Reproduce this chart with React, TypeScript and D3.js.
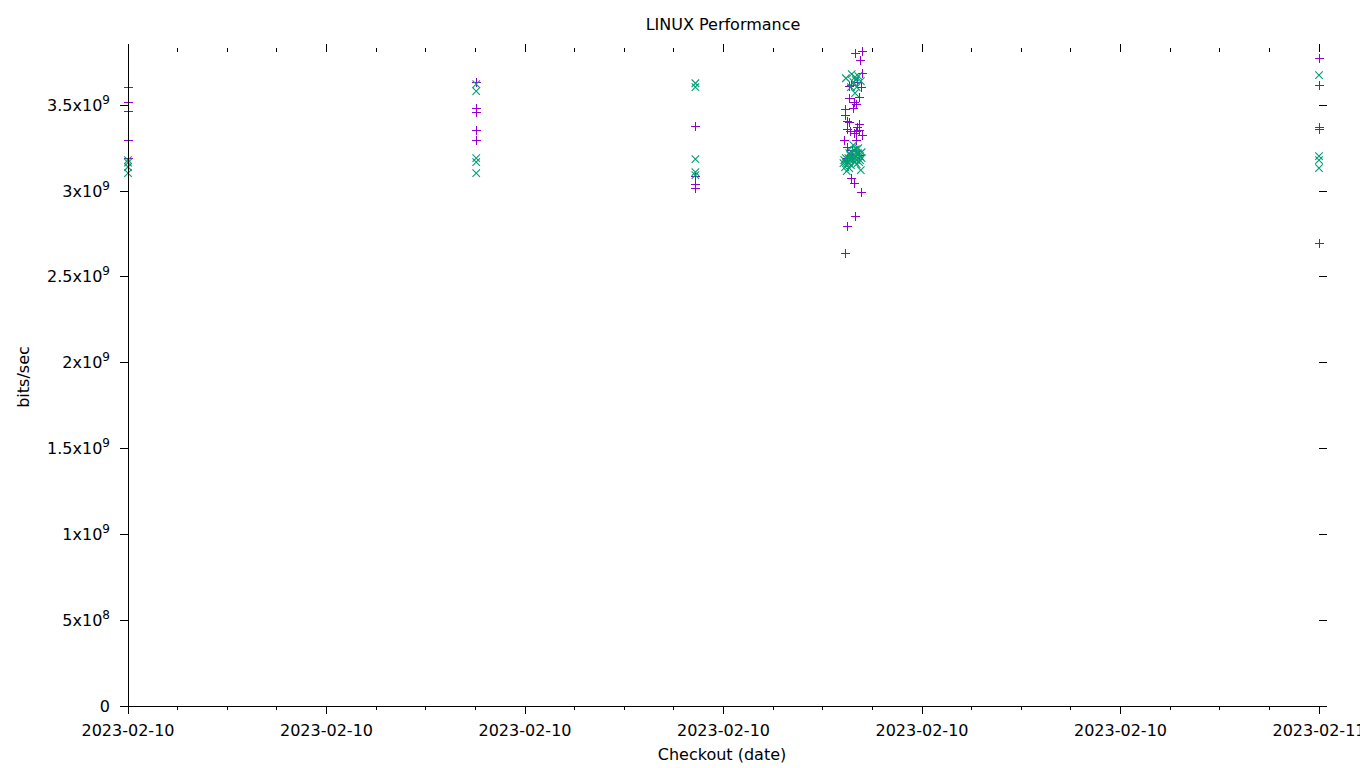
import React, { useEffect, useRef } from 'react';
import * as d3 from 'd3';

// purple "+" series, [checkout time, Gbit/s]
const plusPoints: [string, number][] = [
  ['2023-02-10 00:00', 3.605], ['2023-02-10 00:00', 3.518], ['2023-02-10 00:00', 3.465],
  ['2023-02-10 00:00', 3.296], ['2023-02-10 00:00', 3.192],
  ['2023-02-10 07:01', 3.634], ['2023-02-10 07:01', 3.483], ['2023-02-10 07:01', 3.459],
  ['2023-02-10 07:01', 3.355], ['2023-02-10 07:01', 3.296],
  ['2023-02-10 11:26', 3.378], ['2023-02-10 11:26', 3.087], ['2023-02-10 11:26', 3.040],
  ['2023-02-10 11:26', 3.017],
  ['2023-02-10 14:39', 3.803], ['2023-02-10 14:47', 3.815], ['2023-02-10 14:45', 3.762],
  ['2023-02-10 14:47', 3.687], ['2023-02-10 14:46', 3.605], ['2023-02-10 14:32', 3.611],
  ['2023-02-10 14:34', 3.617], ['2023-02-10 14:41', 3.634], ['2023-02-10 14:32', 3.541],
  ['2023-02-10 14:44', 3.547], ['2023-02-10 14:38', 3.518], ['2023-02-10 14:40', 3.506],
  ['2023-02-10 14:27', 3.477], ['2023-02-10 14:37', 3.483], ['2023-02-10 14:27', 3.442],
  ['2023-02-10 14:29', 3.407], ['2023-02-10 14:32', 3.401], ['2023-02-10 14:44', 3.390],
  ['2023-02-10 14:29', 3.360], ['2023-02-10 14:33', 3.349], ['2023-02-10 14:40', 3.349],
  ['2023-02-10 14:44', 3.355], ['2023-02-10 14:41', 3.372], ['2023-02-10 14:38', 3.337],
  ['2023-02-10 14:48', 3.326], ['2023-02-10 14:26', 3.296], ['2023-02-10 14:40', 3.296],
  ['2023-02-10 14:29', 3.256], ['2023-02-10 14:44', 3.209], ['2023-02-10 14:29', 3.192],
  ['2023-02-10 14:35', 3.238], ['2023-02-10 14:34', 3.075], ['2023-02-10 14:38', 3.046],
  ['2023-02-10 14:46', 2.994], ['2023-02-10 14:39', 2.854], ['2023-02-10 14:29', 2.796],
  ['2023-02-10 14:27', 2.638],
  ['2023-02-11 00:00', 3.774], ['2023-02-11 00:00', 3.617], ['2023-02-11 00:00', 3.372],
  ['2023-02-11 00:00', 3.363], ['2023-02-11 00:00', 2.697],
];

// green "x" series
const crossPoints: [string, number][] = [
  ['2023-02-10 00:00', 3.180], ['2023-02-10 00:00', 3.165], ['2023-02-10 00:00', 3.140],
  ['2023-02-10 00:00', 3.105],
  ['2023-02-10 07:01', 3.623], ['2023-02-10 07:01', 3.582], ['2023-02-10 07:01', 3.192],
  ['2023-02-10 07:01', 3.168], ['2023-02-10 07:01', 3.104],
  ['2023-02-10 11:26', 3.628], ['2023-02-10 11:26', 3.605], ['2023-02-10 11:26', 3.186],
  ['2023-02-10 11:26', 3.110], ['2023-02-10 11:26', 3.093],
  ['2023-02-10 14:28', 3.657], ['2023-02-10 14:35', 3.681], ['2023-02-10 14:39', 3.663],
  ['2023-02-10 14:43', 3.669], ['2023-02-10 14:46', 3.640], ['2023-02-10 14:41', 3.605],
  ['2023-02-10 14:39', 3.570], ['2023-02-10 14:34', 3.605], ['2023-02-10 14:37', 3.634],
  ['2023-02-10 14:40', 3.646],
  ['2023-02-10 14:26', 3.180], ['2023-02-10 14:28', 3.162], ['2023-02-10 14:31', 3.192],
  ['2023-02-10 14:33', 3.209], ['2023-02-10 14:35', 3.226], ['2023-02-10 14:38', 3.238],
  ['2023-02-10 14:40', 3.244], ['2023-02-10 14:43', 3.221], ['2023-02-10 14:45', 3.203],
  ['2023-02-10 14:47', 3.192], ['2023-02-10 14:27', 3.139], ['2023-02-10 14:29', 3.116],
  ['2023-02-10 14:32', 3.133], ['2023-02-10 14:34', 3.151], ['2023-02-10 14:37', 3.180],
  ['2023-02-10 14:39', 3.192], ['2023-02-10 14:41', 3.180], ['2023-02-10 14:44', 3.168],
  ['2023-02-10 14:46', 3.122], ['2023-02-10 14:35', 3.197], ['2023-02-10 14:38', 3.209],
  ['2023-02-10 14:40', 3.203], ['2023-02-10 14:33', 3.180], ['2023-02-10 14:31', 3.162],
  ['2023-02-10 14:28', 3.192], ['2023-02-10 14:43', 3.250], ['2023-02-10 14:37', 3.267],
  ['2023-02-10 14:39', 3.168], ['2023-02-10 14:41', 3.157], ['2023-02-10 14:45', 3.180],
  ['2023-02-10 14:47', 3.226], ['2023-02-10 14:25', 3.162], ['2023-02-10 14:34', 3.192],
  ['2023-02-10 14:40', 3.221], ['2023-02-10 14:32', 3.221],
  ['2023-02-11 00:00', 3.675], ['2023-02-11 00:00', 3.203], ['2023-02-11 00:00', 3.180],
  ['2023-02-11 00:00', 3.133],
];

const yTicks = [0, 5e8, 1e9, 1.5e9, 2e9, 2.5e9, 3e9, 3.5e9];
const xRange = ['2023-02-10 00:00', '2023-02-11 00:00'];
const yMax = 3.81e9;

const FONT = "'DejaVu Sans', sans-serif";
const PURPLE = '#9400d3';
const GREEN = '#009e73';

const App: React.FC = () => {
  const svgRef = useRef<SVGSVGElement>(null);

  useEffect(() => {
    if (!svgRef.current) return;
    const svg = d3.select(svgRef.current);
    svg.selectAll('*').remove();

    const parse = d3.timeParse('%Y-%m-%d %H:%M');
    const left = 128, right = 1319, top = 52, bottom = 706;

    const x = d3.scaleTime()
      .domain(xRange.map(s => parse(s) as Date))
      .range([left, right]);
    const y = d3.scaleLinear().domain([0, yMax]).range([bottom, top]);

    const r = 3.75;

    // points first, the border goes over them
    const gp = svg.append('g');
    plusPoints.forEach(([t, v]) => {
      const px = Math.round(x(parse(t) as Date)), py = Math.round(y(v * 1e9));
      gp.append('path')
        .attr('d', `M${px - 4},${py + 0.5}H${px + 5}M${px + 0.5},${py - 4}V${py + 5}`)
        .attr('stroke', PURPLE).attr('stroke-width', 1).attr('fill', 'none');
    });
    crossPoints.forEach(([t, v]) => {
      const px = x(parse(t) as Date), py = y(v * 1e9);
      gp.append('path')
        .attr('d', `M${px - r},${py - r}L${px + r},${py + r}M${px - r},${py + r}L${px + r},${py - r}`)
        .attr('stroke', GREEN).attr('stroke-width', 1.1).attr('fill', 'none');
    });

    const ga = svg.append('g')
      .attr('stroke', '#000')
      .attr('stroke-width', 1)
      .attr('shape-rendering', 'crispEdges');
    ga.append('line').attr('x1', left).attr('x2', left).attr('y1', top).attr('y2', bottom);
    ga.append('line').attr('x1', left).attr('x2', right).attr('y1', bottom).attr('y2', bottom);

    // y ticks, mirrored on the right
    yTicks.forEach(v => {
      const py = y(v);
      ga.append('line').attr('x1', left - 8).attr('x2', left).attr('y1', py).attr('y2', py);
      ga.append('line').attr('x1', right).attr('x2', right + 8).attr('y1', py).attr('y2', py);
    });

    // x ticks (major 4h, minor 1h), mirrored on top
    const majors = x.ticks(d3.timeHour.every(4) as d3.TimeInterval);
    const minors = x.ticks(d3.timeHour.every(1) as d3.TimeInterval);
    minors.forEach(d => {
      const px = x(d);
      const isMajor = majors.some(m => +m === +d);
      const len = isMajor ? 8 : 4;
      ga.append('line').attr('x1', px).attr('x2', px).attr('y1', bottom).attr('y2', bottom + len);
      ga.append('line').attr('x1', px).attr('x2', px).attr('y1', top).attr('y2', top - len);
    });

    const txt = svg.append('g')
      .style('font-family', FONT)
      .style('font-size', '16px')
      .attr('fill', '#000');

    const fmtDate = d3.timeFormat('%Y-%m-%d');
    majors.forEach(d => {
      txt.append('text')
        .attr('x', x(d)).attr('y', 736)
        .attr('text-anchor', 'middle')
        .text(fmtDate(d));
    });

    yTicks.forEach(v => {
      const t = txt.append('text')
        .attr('x', 110).attr('y', y(v) + 5.5)
        .attr('text-anchor', 'end');
      if (v === 0) {
        t.text('0');
        return;
      }
      const exp = Math.floor(Math.log10(v));
      const mant = +(v / Math.pow(10, exp)).toFixed(2);
      t.append('tspan').text(`${mant}x10`);
      t.append('tspan').attr('dy', -7).style('font-size', '12px').text(`${exp}`);
    });

    txt.append('text')
      .attr('x', 723).attr('y', 30)
      .attr('text-anchor', 'middle')
      .text('LINUX Performance');

    txt.append('text')
      .attr('x', 722).attr('y', 760)
      .attr('text-anchor', 'middle')
      .text('Checkout (date)');

    txt.append('text')
      .attr('transform', 'translate(29,377) rotate(-90)')
      .attr('text-anchor', 'middle')
      .text('bits/sec');
  }, []);

  return (
    <svg
      ref={svgRef}
      width={1360}
      height={768}
      style={{ position: 'absolute', left: 0, top: 0, background: '#fff' }}
    />
  );
};

export default App;
